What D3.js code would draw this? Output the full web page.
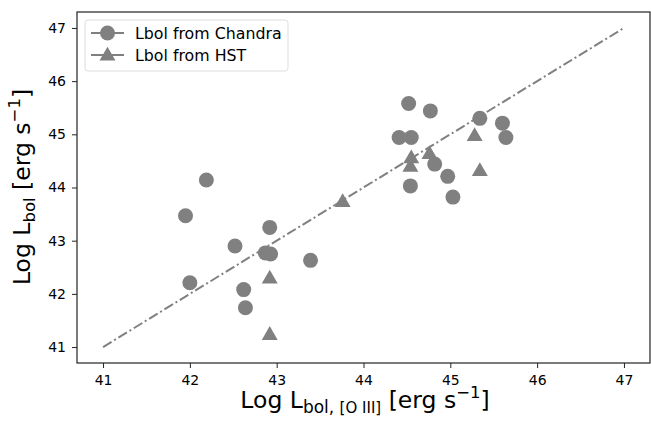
<!DOCTYPE html>
<html>
<head>
<meta charset="utf-8">
<script src="https://cdn.jsdelivr.net/npm/d3@7"></script>
<style>
  body { margin: 0; background: #fff; }
  text { font-family: "DejaVu Sans", sans-serif; fill: #000; }
</style>
</head>
<body>
<script>
// values
const chandraX = [41.95, 42.19, 42.0, 42.52, 42.92, 42.87, 42.93, 43.39, 42.62, 42.64,
                  44.52, 44.77, 44.41, 44.55, 45.34, 45.60, 45.64, 44.82, 44.97, 44.54, 45.03]
const chandraY = [43.47, 44.14, 42.21, 42.90, 43.25, 42.77, 42.75, 42.63, 42.08, 41.74,
                  45.58, 45.44, 44.94, 44.94, 45.30, 45.21, 44.94, 44.44, 44.21, 44.03, 43.82]
const hstX = [42.92, 42.92, 43.76, 44.55, 44.54, 44.76, 45.28, 45.34]
const hstY = [42.30, 41.24, 43.74, 44.56, 44.40, 44.64, 44.98, 44.32]
const lineX = [41, 47]
const xTicks = [41, 42, 43, 44, 45, 46, 47]
const yTicks = [41, 42, 43, 44, 45, 46, 47]
const seriesNames = ["Lbol from Chandra", "Lbol from HST"]

const width = 651, height = 423
const margin = { left: 77, right: 1, top: 12, bottom: 60 }
const grey = "#808080"

const svg = d3.select("body").append("svg")
    .attr("width", width)
    .attr("height", height)

const x = d3.scaleLinear().domain([40.7, 47.3]).range([margin.left, width - margin.right])
const y = d3.scaleLinear().domain([40.7, 47.3]).range([height - margin.bottom, margin.top])

// axes
const xAxis = svg.append("g")
    .attr("transform", `translate(0, ${height - margin.bottom})`)
    .call(d3.axisBottom(x).tickValues(xTicks).tickFormat(d3.format("d")).tickSize(5).tickPadding(7))
const yAxis = svg.append("g")
    .attr("transform", `translate(${margin.left}, 0)`)
    .call(d3.axisLeft(y).tickValues(yTicks).tickFormat(d3.format("d")).tickSize(5).tickPadding(6))

for (const ax of [xAxis, yAxis]) {
    ax.select(".domain").remove()
    ax.selectAll("text").style("font-size", "14px").attr("fill", "#000")
    ax.selectAll("line").attr("stroke", "#222").attr("stroke-width", 1)
}

// frame
svg.append("rect")
    .attr("x", margin.left)
    .attr("y", margin.top)
    .attr("width", width - margin.right - margin.left)
    .attr("height", height - margin.bottom - margin.top)
    .attr("fill", "none")
    .attr("stroke", "#222")
    .attr("stroke-width", 1.2)

// 1:1 line
svg.append("path")
    .attr("d", d3.line()(lineX.map(v => [x(v), y(v)])))
    .attr("stroke", grey)
    .attr("stroke-width", 2)
    .attr("stroke-dasharray", "10,3,2,3")
    .attr("fill", "none")

const tri = d3.symbol().type(d3.symbolTriangle).size(110)

svg.append("g").selectAll("path")
    .data(hstX.map((v, i) => [v, hstY[i]]))
    .enter().append("path")
    .attr("d", tri)
    .attr("transform", d => `translate(${x(d[0])}, ${y(d[1]) + 1})`)
    .attr("fill", grey)

svg.append("g").selectAll("circle")
    .data(chandraX.map((v, i) => [v, chandraY[i]]))
    .enter().append("circle")
    .attr("cx", d => x(d[0]))
    .attr("cy", d => y(d[1]))
    .attr("r", 7.5)
    .attr("fill", grey)

// legend
const legend = svg.append("g").attr("transform", "translate(85, 20)")
legend.append("rect")
    .attr("width", 203)
    .attr("height", 51)
    .attr("rx", 3)
    .attr("fill", "#fff")
    .attr("fill-opacity", 0.8)
    .attr("stroke", "#ddd")

seriesNames.forEach((name, i) => {
    const cy = 13 + i * 22
    legend.append("line")
        .attr("x1", 6).attr("x2", 39)
        .attr("y1", cy).attr("y2", cy)
        .attr("stroke", grey).attr("stroke-width", 2)
    if (i == 0) {
        legend.append("circle").attr("cx", 22.5).attr("cy", cy).attr("r", 7.5).attr("fill", grey)
    } else {
        legend.append("path").attr("d", tri).attr("transform", `translate(22.5, ${cy + 1})`).attr("fill", grey)
    }
    legend.append("text")
        .attr("x", 50)
        .attr("y", cy + 5.5)
        .style("font-size", "15.8px")
        .text(name)
})

// axis labels
const xl = svg.append("text")
    .attr("x", 365)
    .attr("y", 408)
    .attr("text-anchor", "middle")
    .style("font-size", "23.5px")
xl.append("tspan").text("Log L")
xl.append("tspan").attr("dy", 5).style("font-size", "17px").text("bol, ")
xl.append("tspan").style("font-size", "15px").text("[O III]")
xl.append("tspan").attr("dy", -5).text(" [erg s")
xl.append("tspan").attr("dy", -10).style("font-size", "16.5px").text("\u22121")
xl.append("tspan").attr("dy", 10).text("]")

const yl = svg.append("text")
    .attr("transform", `translate(30, 187) rotate(-90)`)
    .attr("text-anchor", "middle")
    .style("font-size", "23.5px")
yl.append("tspan").text("Log L")
yl.append("tspan").attr("dy", 5).style("font-size", "16.5px").text("bol")
yl.append("tspan").attr("dy", -5).text(" [erg s")
yl.append("tspan").attr("dy", -10).style("font-size", "16.5px").text("\u22121")
yl.append("tspan").attr("dy", 10).text("]")
</script>
</body>
</html>
